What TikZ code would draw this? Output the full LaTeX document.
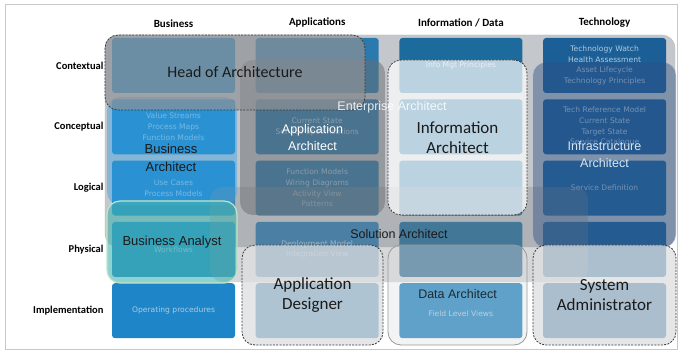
\documentclass[tikz,border=0pt]{standalone}
\usepackage{fontspec}
\setmainfont{Carlito}
\newfontfamily\arialfont{Liberation Sans}
\newfontfamily\cellfont{DejaVu Sans}
\usepackage{tikz}
\usetikzlibrary{positioning}
\definecolor{FrameGray}{HTML}{C8C8C8}
\definecolor{EntGray}{HTML}{C4C8CC}
\definecolor{BizBlue}{HTML}{1E86C8}
\definecolor{AppBlue}{HTML}{2A7AAE}
\definecolor{InfoBlue}{HTML}{1D6B9C}
\definecolor{TechBlue}{HTML}{1C5F97}
\definecolor{CellText}{HTML}{AECADF}
\definecolor{HeadGray}{HTML}{8E9296}
\definecolor{AppGray}{HTML}{6A6E72}
\definecolor{SolGray}{HTML}{8A8E92}
\definecolor{InfraBlue}{HTML}{2E4F82}
\definecolor{BizArchBlue}{HTML}{3AA2E2}
\definecolor{AnalystTeal}{HTML}{45B5B0}
\definecolor{AnalystEdge}{HTML}{BFE6C8}
\definecolor{LightBox}{HTML}{DCDEE0}
\definecolor{DashGray}{HTML}{3A3A3A}
\definecolor{TextDark}{HTML}{1A1A1A}
\definecolor{InfraText}{HTML}{D8E6F2}

\begin{document}
\begin{tikzpicture}[x=1pt,y=-1pt,
  cell/.style={rounded corners=3pt,minimum width=123pt,minimum height=55pt,inner sep=1pt,outer sep=0pt,align=center,text=CellText,font=\cellfont\fontsize{7.6}{10.7}\selectfont},
  rowlbl/.style={font=\bfseries\fontsize{10.5}{12}\selectfont,anchor=east},
  colhead/.style={font=\bfseries\fontsize{11}{12}\selectfont},
  role/.style={rounded corners=13pt,inner sep=0pt,outer sep=0pt,align=center},
  dashbox/.style={role,draw=DashGray,dash pattern=on 2pt off 1.3pt,line width=0.8pt},
  bigtext/.style={font=\fontsize{17}{20}\selectfont,text=TextDark},
  arialtext/.style={font=\arialfont\fontsize{12.5}{17}\selectfont}
]
  \useasboundingbox (0,0) rectangle (682,355);
  \fill[white] (0,0) rectangle (682,355);
  \draw[FrameGray] (5,4) rectangle (677,349);

  % enterprise architect area
  \node[role,draw=gray!55,fill=EntGray,minimum width=570pt,minimum height=212pt] (ent) at (390,141) {};

  % business column
  \node[cell,fill=BizBlue] (bizctx) at (173.5,65.5) {};
  \node[cell,fill=BizBlue,below=6.3pt of bizctx] (bizcon) {Value Streams\\Process Maps\\Function Models};
  \node[cell,fill=BizBlue,below=6.3pt of bizcon] (bizlog) {Use Cases\\Process Models};
  \node[cell,fill=BizBlue,below=6.3pt of bizlog] (bizphy) {Workflows};
  \node[cell,fill=BizBlue,below=6.3pt of bizphy] (bizimp) {Operating procedures};

  % applications column
  \node[cell,fill=AppBlue,right=20.7pt of bizctx] (appctx) {};
  \node[cell,fill=AppBlue,below=6.3pt of appctx] (appcon) {Current State\\Service Specifications};
  \node[cell,fill=AppBlue,below=6.3pt of appcon] (applog) {Function Models\\Wiring Diagrams\\Activity View\\Patterns};
  \node[cell,fill=AppBlue,below=6.3pt of applog] (appphy) {Deployment Model\\Integration View};
  \node[cell,fill=AppBlue,below=6.3pt of appphy] (appimp) {};

  % information / data column
  \node[cell,fill=InfoBlue,right=20.7pt of appctx] (infctx) {Info Mgt Principles};
  \node[cell,fill=InfoBlue,below=6.3pt of infctx] (infcon) {};
  \node[cell,fill=InfoBlue,below=6.3pt of infcon] (inflog) {};
  \node[cell,fill=InfoBlue,below=6.3pt of inflog] (infphy) {};
  \node[cell,fill=BizBlue!80!InfoBlue,below=6.3pt of infphy] (infimp) {\raisebox{-12pt}{Field Level Views}};

  % technology column
  \node[cell,fill=TechBlue,right=20.7pt of infctx] (tecctx) {Technology Watch\\Health Assessment\\Asset Lifecycle\\Technology Principles};
  \node[cell,fill=TechBlue,below=6.3pt of tecctx] (teccon) {Tech Reference Model\\Current State\\Target State\\Service Catalogue};
  \node[cell,fill=TechBlue!85!BizBlue,below=6.3pt of teccon] (teclog) {Service Definition};
  \node[cell,fill=TechBlue!85!BizBlue,below=6.3pt of teclog] (tecphy) {};
  \node[cell,fill=TechBlue,below=6.3pt of tecphy] (tecimp) {};

  % headers
  \node[colhead,above=7pt of bizctx] {Business};
  \node[colhead,above=7pt of appctx] {Applications};
  \node[colhead,above=7pt of infctx] {Information / Data};
  \node[colhead,above=7pt of tecctx] {Technology};
  \node[rowlbl,left=5pt of bizctx] {Contextual};
  \node[rowlbl,left=5pt of bizcon] {Conceptual};
  \node[rowlbl,left=5pt of bizlog] {Logical};
  \node[rowlbl,left=5pt of bizphy] {Physical};
  \node[rowlbl,left=5pt of bizimp] {Implementation};

  % roles
  \node[role,fill=SolGray,fill opacity=0.35,text opacity=1,minimum width=378pt,minimum height=95pt,arialtext,text=TextDark] (solarch) at (399,234.5) {Solution Architect};
  \node[role,fill=AppGray,fill opacity=0.5,text opacity=1,minimum width=145pt,minimum height=155pt,arialtext,text=white] (apparch) at (312.5,137.5) {Application\\Architect};
  \node[dashbox,fill=white,fill opacity=0.7,text opacity=1,minimum width=139pt,minimum height=155pt,bigtext] (infoarch) at (457.5,137.5) {Information\\Architect};
  \node[role,fill=InfraBlue,fill opacity=0.45,text opacity=1,minimum width=143pt,minimum height=185pt,arialtext,text=InfraText] (infraarch) at (604.5,155) {Infrastructure\\Architect};
  \node[role,fill=BizArchBlue,fill opacity=0.45,minimum width=130pt,minimum height=108pt] (bizarch) at (172,151) {};
  \node[align=center,font=\arialfont\fontsize{13}{18}\selectfont,text=TextDark] (bizarchlbl) at (171,157.5) {Business\\Architect};
  \node[role,draw=AnalystEdge,line width=1.2pt,fill=AnalystTeal,fill opacity=0.6,text opacity=1,minimum width=130pt,minimum height=82pt,font=\arialfont\fontsize{13}{16}\selectfont,text=TextDark] (bizanalyst) at (172,242) {Business Analyst};
  \node[dashbox,fill=HeadGray,fill opacity=0.7,text opacity=1,minimum width=260pt,minimum height=75pt,font=\fontsize{16}{18}\selectfont,text=TextDark] (headarch) at (235,72.5) {Head of Architecture};
  \node[font=\arialfont\fontsize{12.5}{14}\selectfont,text=white,text opacity=0.85] (entlbl) at (392,107) {Enterprise Architect};

  \node[dashbox,fill=LightBox,fill opacity=0.75,text opacity=1,minimum width=141pt,minimum height=100pt,font=\fontsize{17}{20}\selectfont,text=TextDark] (appdesign) at (312.5,295) {Application\\Designer};
  \node[role,draw=gray!80,line width=0.8pt,fill=LightBox,fill opacity=0.35,text opacity=1,minimum width=139pt,minimum height=100pt,arialtext,text=TextDark!80!InfoBlue] (dataarch) at (457.5,295) {\raisebox{3pt}{Data Architect}};
  \node[dashbox,fill=LightBox,fill opacity=0.75,text opacity=1,minimum width=143pt,minimum height=100pt,font=\fontsize{17}{20}\selectfont,text=TextDark] (sysadmin) at (604.5,295) {System\\Administrator};
\end{tikzpicture}
\end{document}
